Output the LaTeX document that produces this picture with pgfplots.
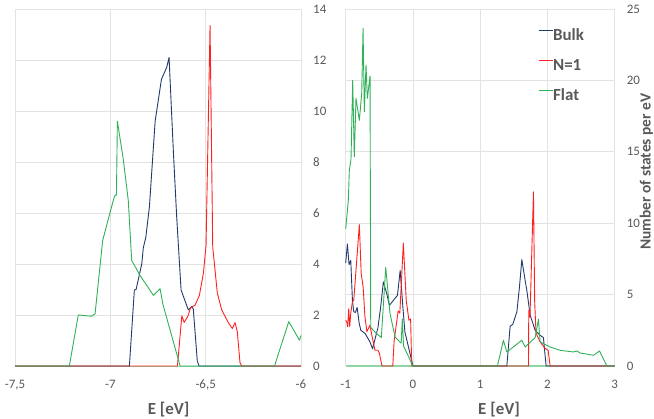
\documentclass[border=0pt]{standalone}
\usepackage{fontspec}
\setmainfont{Carlito}
\usepackage{pgfplots}
\pgfplotsset{compat=1.18}
\definecolor{bulk}{HTML}{22396B}
\definecolor{nred}{HTML}{FF2020}
\definecolor{flat}{HTML}{2EB157}
\definecolor{flatlight}{HTML}{8FD6A4}
\definecolor{tickgray}{HTML}{595959}
\definecolor{gridgray}{HTML}{E3E3E3}
\pgfplotsset{
  mystyle/.style={
    scale only axis, height=357bp,
    axis x line*=bottom, axis y line*=right,
    y axis line style={draw=none},
    tick style={draw=none},
    grid=major, major grid style={gridgray, line width=0.75bp},
    tick label style={font=\fontsize{13}{15}\selectfont, text=tickgray},
    /pgf/number format/assume math mode=true,
    yticklabel style={anchor=west, inner sep=0pt, xshift=12bp},
    xticklabel style={anchor=north, inner sep=0pt, yshift=-13.5bp},
    xlabel style={font=\bfseries\fontsize{17}{20}\selectfont, text=tickgray, anchor=base, yshift=-48bp},
    ymin=0, clip=false,
    every axis plot/.append style={line width=0.9bp, line join=round},
  }
}
\begin{document}
\begin{tikzpicture}
\begin{axis}[mystyle, at={(15bp,53bp)}, anchor=south west, width=286bp,
  xmin=-7.5, xmax=-6, ymax=14,
  xtick={-7.5,-7,-6.5,-6}, xticklabels={{-7,5},{-7},{-6,5},{-6}},
  ytick={0,2,...,14},
  x axis line style={flatlight, line width=0.9bp},
  xlabel={E [eV]}, xlabel style={at={(axis description cs:0.537,0)}}]
\addplot[bulk] coordinates {(-7.5,0) (-6.90,0) (-6.874,2.98) (-6.865,3.0) (-6.835,4.01) (-6.827,4.64) (-6.814,5.04) (-6.795,6.25) (-6.765,9.6) (-6.732,11.24) (-6.704,11.72) (-6.692,12.1) (-6.669,8.35) (-6.652,5.85) (-6.629,2.98) (-6.591,2.2) (-6.573,2.33) (-6.565,2.24) (-6.544,0.2) (-6.535,0) (-6,0)};
\addplot[nred] coordinates {(-7.5,0) (-6.648,0) (-6.625,1.97) (-6.613,1.71) (-6.594,1.94) (-6.578,2.3) (-6.556,2.38) (-6.533,2.77) (-6.512,3.63) (-6.498,4.74) (-6.477,13.35) (-6.463,4.67) (-6.439,2.87) (-6.416,2.2) (-6.381,1.7) (-6.36,1.47) (-6.346,1.7) (-6.334,1.34) (-6.32,0.13) (-6.311,0) (-6,0)};
\addplot[flat] coordinates {(-7.5,0) (-7.215,0) (-7.168,2.0) (-7.098,1.95) (-7.08,2.05) (-7.04,4.93) (-6.984,6.51) (-6.975,6.7) (-6.968,6.7) (-6.963,9.6) (-6.932,8.1) (-6.906,6.5) (-6.888,4.14) (-6.844,3.55) (-6.774,2.77) (-6.739,3.03) (-6.725,2.44) (-6.634,0) (-6.139,0) (-6.064,1.74) (-6.008,1.01) (-6,1.2)};
\end{axis}
\begin{axis}[mystyle, at={(345.7bp,53bp)}, anchor=south west, width=269bp,
  xmin=-1, xmax=3, ymax=25,
  xtick={-1,0,1,2,3}, xticklabels={{-1},{0},{1},{2},{3}},
  ytick={0,5,...,25},
  x axis line style={flatlight, line width=2bp},
  xlabel={E [eV]}, xlabel style={at={(axis description cs:0.570,0)}},
  legend style={at={(axis description cs:0.715,0.947)}, anchor=north west, draw=none, fill=none, inner sep=0pt,
    font=\bfseries\fontsize{17}{20}\selectfont, text=tickgray, row sep=15bp,
    nodes={inner sep=0pt, text height=12bp, text depth=3bp}},
  legend cell align=left,
  legend image code/.code={\draw[#1] (0bp,5bp) -- (14bp,5bp);}]
\addplot[bulk] coordinates {(-1,7.2) (-0.975,8.55) (-0.95,7.1) (-0.925,7.4) (-0.9,4.6) (-0.88,3.8) (-0.855,3.75) (-0.83,4.1) (-0.8,3.0) (-0.775,2.5) (-0.71,2.27) (-0.64,1.69) (-0.6,1.2) (-0.52,2.7) (-0.48,4.14) (-0.44,5.89) (-0.39,5.07) (-0.35,4.25) (-0.29,4.6) (-0.23,4.95) (-0.19,6.7) (-0.15,4.14) (-0.12,2.39) (0,0) (1.396,0) (1.445,2.78) (1.485,2.92) (1.545,3.79) (1.583,5.5) (1.619,7.45) (1.668,6.0) (1.693,5.3) (1.743,3.55) (1.817,2.5) (1.891,2.15) (1.94,1.99) (1.98,0) (3,0)};
\addlegendentry{Bulk}
\addplot[nred] coordinates {(-1,3.2) (-0.985,3.1) (-0.97,2.75) (-0.955,4.0) (-0.94,2.75) (-0.925,3.7) (-0.9,4.5) (-0.88,4.6) (-0.797,9.9) (-0.77,6.5) (-0.74,5.5) (-0.715,3.5) (-0.685,2.4) (-0.64,2.85) (-0.6,1.9) (-0.565,1.1) (-0.52,1.1) (-0.5,0.9) (-0.46,0) (-0.3,0) (-0.28,1.75) (-0.22,3.86) (-0.195,3.7) (-0.143,8.6) (-0.1,4.6) (-0.06,3.2) (-0.035,3.3) (-0.018,0) (1.718,0) (1.722,3.9) (1.74,3.4) (1.792,12.2) (1.81,4.5) (1.83,2.3) (1.89,1.7) (1.96,1.25) (2.01,1.1) (2.04,0) (3,0)};
\addlegendentry{N=1}
\addplot[flat] coordinates {(-1,9.6) (-0.961,11.6) (-0.946,13.7) (-0.921,14.5) (-0.896,20.0) (-0.872,14.65) (-0.847,18.74) (-0.797,17.2) (-0.762,19.1) (-0.742,23.64) (-0.723,17.8) (-0.698,21.07) (-0.678,18.74) (-0.638,20.3) (-0.628,2.7) (-0.55,2.3) (-0.47,2.0) (-0.405,6.9) (-0.341,3.67) (-0.266,2.03) (-0.175,1.6) (-0.158,3.3) (-0.14,1.4) (0,0) (1.256,0) (1.345,1.8) (1.396,0.98) (1.619,1.8) (1.668,1.33) (1.817,1.99) (1.866,3.27) (1.891,1.68) (2.04,1.33) (2.189,1.1) (2.387,0.98) (2.436,1.05) (2.487,0.91) (2.685,0.75) (2.774,1.05) (2.884,0) (3,0)};
\addlegendentry{Flat}
\end{axis}
\node[rotate=90, anchor=base, font=\bfseries\fontsize{15.5}{19}\selectfont, text=tickgray, inner sep=0pt] at (650.5bp,247.5bp) {Number of states per eV};
\pgfresetboundingbox
\path[use as bounding box] (0,0) rectangle (654bp,419bp);
\end{tikzpicture}
\end{document}
